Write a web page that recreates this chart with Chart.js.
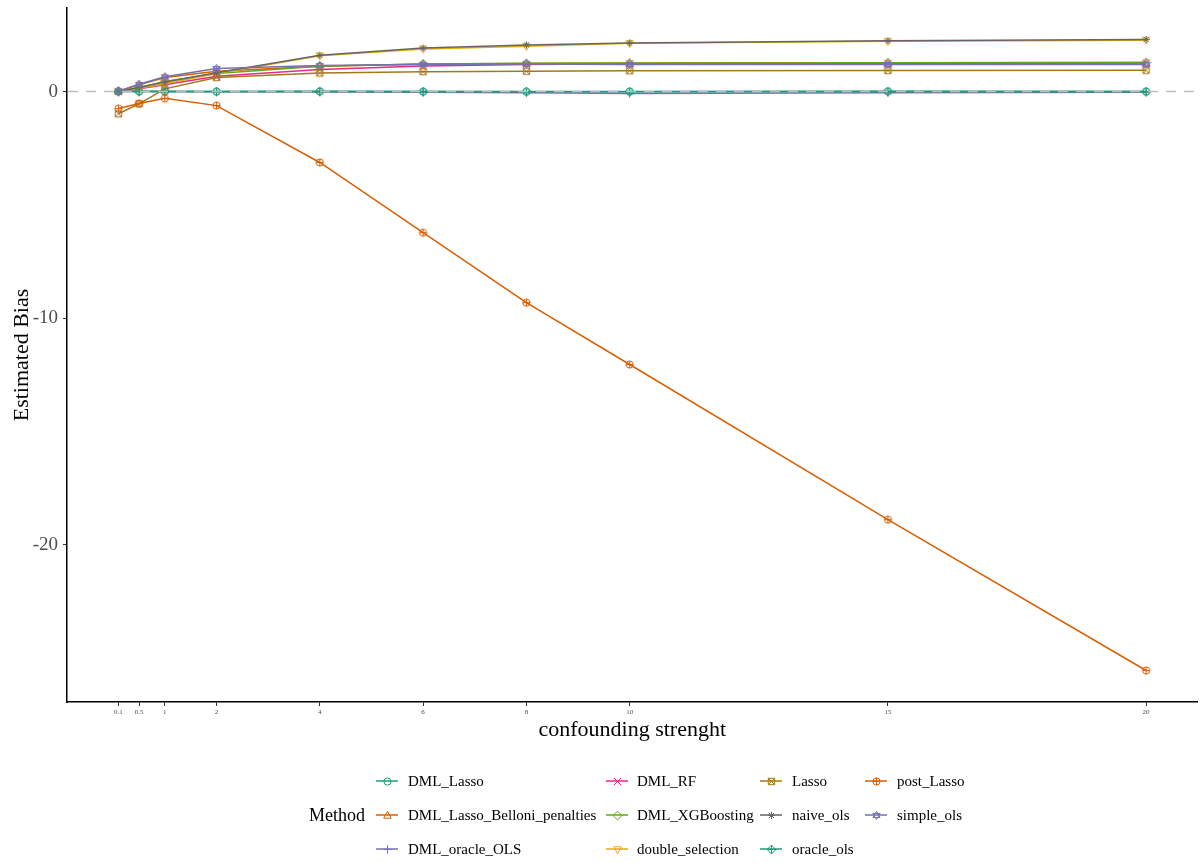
<!DOCTYPE html>
<html>
<head>
<meta charset="utf-8">
<script src="https://cdn.jsdelivr.net/npm/chart.js@4/dist/chart.umd.min.js"></script>
<style>
  html, body { margin: 0; padding: 0; background: #ffffff; }
  #wrap { width: 1203px; height: 864px; position: relative; }
</style>
</head>
<body>
<div id="wrap"><canvas id="c" width="1203" height="864"></canvas></div>
<script>
// ---- data ----
const strengths = [0.1, 0.5, 1, 2, 4, 6, 8, 10, 15, 20];
const xTickValues = [0.1, 0.5, 1, 2, 4, 6, 8, 10, 15, 20];
const yTickValues = [-20, -10, 0];

const methods = ["DML_Lasso", "DML_Lasso_Belloni_penalties", "DML_oracle_OLS", "DML_RF",
  "DML_XGBoosting", "double_selection", "Lasso", "naive_ols", "oracle_ols", "post_Lasso", "simple_ols"];

const DML_Lasso          = [0.02, 0.01, 0.01, 0.00, 0.01, 0.00, -0.01, 0.00, 0.01, 0.00];
const DML_Lasso_Belloni  = [0.02, 0.30, 0.62, 0.90, 1.12, 1.22, 1.24, 1.25, 1.26, 1.27];
const DML_oracle_OLS     = [0.00, 0.00, -0.01, -0.01, -0.02, -0.03, -0.05, -0.08, -0.05, -0.03];
const DML_RF             = [0.00, 0.12, 0.30, 0.68, 0.98, 1.13, 1.20, 1.23, 1.25, 1.26];
const DML_XGBoosting     = [0.00, 0.18, 0.45, 0.80, 1.12, 1.22, 1.25, 1.26, 1.27, 1.29];
const double_selection   = [0.00, 0.15, 0.35, 0.80, 1.58, 1.88, 2.00, 2.13, 2.22, 2.27];
const Lasso              = [-0.98, -0.54, 0.12, 0.62, 0.82, 0.88, 0.90, 0.92, 0.93, 0.94];
const naive_ols          = [0.00, 0.18, 0.42, 0.83, 1.60, 1.92, 2.06, 2.15, 2.24, 2.30];
const oracle_ols         = [0.00, 0.00, 0.00, 0.00, 0.00, 0.00, 0.00, -0.01, 0.00, 0.00];
const post_Lasso         = [-0.75, -0.53, -0.30, -0.62, -3.13, -6.23, -9.32, -12.05, -18.90, -25.56];
const simple_ols         = [0.02, 0.32, 0.65, 1.02, 1.15, 1.20, 1.22, 1.20, 1.20, 1.20];

const seriesValues = [DML_Lasso, DML_Lasso_Belloni, DML_oracle_OLS, DML_RF, DML_XGBoosting,
  double_selection, Lasso, naive_ols, oracle_ols, post_Lasso, simple_ols];

// ---- styles ----
const colors = ["#1B9E77", "#D95F02", "#7570B3", "#E7298A", "#66A61E", "#E6AB02",
  "#A6761D", "#666666", "#1B9E77", "#D95F02", "#7570B3"];
const shapes = ["circle", "triangle", "plus", "x", "diamond", "triangleDown",
  "squareX", "asterisk", "diamondPlus", "circlePlus", "starDavid"];

function makeShape(type, color) {
  const s = 11;
  const cv = document.createElement('canvas');
  cv.width = s; cv.height = s;
  const g = cv.getContext('2d');
  g.strokeStyle = color; g.lineWidth = 1;
  const c = s / 2, r = 3.6;
  g.beginPath();
  if (type === 'circle') { g.arc(c, c, r, 0, Math.PI * 2); }
  else if (type === 'triangle') { g.moveTo(c, c - r - 0.6); g.lineTo(c + r * 1.05, c + r * 0.75); g.lineTo(c - r * 1.05, c + r * 0.75); g.closePath(); }
  else if (type === 'triangleDown') { g.moveTo(c, c + r + 0.6); g.lineTo(c + r * 1.05, c - r * 0.75); g.lineTo(c - r * 1.05, c - r * 0.75); g.closePath(); }
  else if (type === 'plus') { g.moveTo(c - r - 0.5, c); g.lineTo(c + r + 0.5, c); g.moveTo(c, c - r - 0.5); g.lineTo(c, c + r + 0.5); }
  else if (type === 'x') { g.moveTo(c - r, c - r); g.lineTo(c + r, c + r); g.moveTo(c + r, c - r); g.lineTo(c - r, c + r); }
  else if (type === 'diamond') { g.moveTo(c, c - r - 0.8); g.lineTo(c + r + 0.8, c); g.lineTo(c, c + r + 0.8); g.lineTo(c - r - 0.8, c); g.closePath(); }
  else if (type === 'squareX') { g.rect(c - r + 0.4, c - r + 0.4, 2 * r - 0.8, 2 * r - 0.8); g.moveTo(c - r + 0.4, c - r + 0.4); g.lineTo(c + r - 0.4, c + r - 0.4); g.moveTo(c + r - 0.4, c - r + 0.4); g.lineTo(c - r + 0.4, c + r - 0.4); }
  else if (type === 'asterisk') { g.moveTo(c - r, c); g.lineTo(c + r, c); g.moveTo(c, c - r); g.lineTo(c, c + r); g.moveTo(c - r * 0.72, c - r * 0.72); g.lineTo(c + r * 0.72, c + r * 0.72); g.moveTo(c + r * 0.72, c - r * 0.72); g.lineTo(c - r * 0.72, c + r * 0.72); }
  else if (type === 'diamondPlus') { g.moveTo(c, c - r - 0.8); g.lineTo(c + r + 0.8, c); g.lineTo(c, c + r + 0.8); g.lineTo(c - r - 0.8, c); g.closePath(); g.moveTo(c - r - 0.8, c); g.lineTo(c + r + 0.8, c); g.moveTo(c, c - r - 0.8); g.lineTo(c, c + r + 0.8); }
  else if (type === 'circlePlus') { g.arc(c, c, r, 0, Math.PI * 2); g.moveTo(c - r, c); g.lineTo(c + r, c); g.moveTo(c, c - r); g.lineTo(c, c + r); }
  else if (type === 'starDavid') { g.moveTo(c, c - r - 0.6); g.lineTo(c + r, c + r * 0.55); g.lineTo(c - r, c + r * 0.55); g.closePath(); g.moveTo(c, c + r + 0.6); g.lineTo(c + r, c - r * 0.55); g.lineTo(c - r, c - r * 0.55); g.closePath(); }
  g.stroke();
  return cv;
}

const pointImgs = shapes.map((sh, i) => makeShape(sh, colors[i]));

const datasets = methods.map((m, i) => ({
  label: m,
  data: strengths.map((x, j) => ({ x: x, y: seriesValues[i][j] })),
  borderColor: colors[i],
  backgroundColor: colors[i],
  borderWidth: 1.5,
  pointStyle: pointImgs[i],
  pointRadius: 4,
  pointHoverRadius: 4,
  tension: 0,
  order: -i
}));

const serif = "'Liberation Serif', 'DejaVu Serif', serif";

const overlay = {
  id: 'overlay',
  afterDatasetsDraw(chart) {
    const ctx = chart.ctx, ca = chart.chartArea, y = chart.scales.y.getPixelForValue(0);
    ctx.save();
    ctx.strokeStyle = '#BEBEBE';
    ctx.lineWidth = 1.5;
    ctx.setLineDash([10, 8]);
    ctx.beginPath();
    ctx.moveTo(ca.left + 1, y);
    ctx.lineTo(ca.right, y);
    ctx.stroke();
    ctx.restore();
  },
  afterDraw(chart) {
    const ctx = chart.ctx;
    ctx.save();
    ctx.fillStyle = '#000';
    ctx.textBaseline = 'middle';
    ctx.font = "18px " + serif;
    ctx.textAlign = 'left';
    ctx.fillText('Method', 309, 816);
    const rowsY = [781, 815, 849];
    const keyX = [387, 617, 771, 876];
    const textX = [408, 637, 792, 897];
    ctx.font = "15px " + serif;
    methods.forEach((m, i) => {
      const col = Math.floor(i / 3), row = i % 3;
      const kx = keyX[col], ky = rowsY[row];
      ctx.strokeStyle = colors[i];
      ctx.lineWidth = 1.5;
      ctx.setLineDash([]);
      ctx.beginPath();
      ctx.moveTo(kx - 11, ky);
      ctx.lineTo(kx + 11, ky);
      ctx.stroke();
      const img = pointImgs[i];
      ctx.drawImage(img, Math.round(kx - img.width / 2), Math.round(ky - img.height / 2));
      ctx.fillStyle = '#000';
      ctx.fillText(m, textX[col], ky + 1);
    });
    ctx.restore();
  }
};

new Chart(document.getElementById('c'), {
  type: 'line',
  data: { datasets: datasets },
  plugins: [overlay],
  options: {
    responsive: false,
    animation: false,
    devicePixelRatio: 1,
    layout: { padding: { top: 8, right: 0, left: 0, bottom: 0 } },
    plugins: { legend: { display: false }, tooltip: { enabled: false }, title: { display: false } },
    scales: {
      x: {
        type: 'linear',
        min: -0.895,
        max: 20.995,
        afterFit: s => { s.height = 162; s.paddingLeft = 0; s.paddingRight = 0; },
        afterBuildTicks: s => { s.ticks = xTickValues.map(v => ({ value: v })); },
        ticks: {
          autoSkip: false,
          maxRotation: 0,
          font: { family: serif, size: 7 },
          color: '#4D4D4D',
          padding: 2,
          callback: v => String(v)
        },
        grid: { display: true, drawOnChartArea: false, drawTicks: true, tickLength: 4, color: '#333333', lineWidth: 1 },
        border: { display: true, color: '#000000', width: 1.5 },
        title: {
          display: true,
          text: 'confounding strenght',
          font: { family: serif, size: 22 },
          color: '#000000',
          padding: { top: 0, bottom: 121 }
        }
      },
      y: {
        type: 'linear',
        min: -26.95,
        max: 3.69,
        afterFit: s => { s.width = 67; s.paddingTop = 0; s.paddingBottom = 0; },
        afterBuildTicks: s => { s.ticks = yTickValues.map(v => ({ value: v })); },
        ticks: {
          font: { family: serif, size: 19 },
          color: '#4D4D4D',
          padding: 5,
          callback: v => String(v)
        },
        grid: { display: true, drawOnChartArea: false, drawTicks: true, tickLength: 4, color: '#333333', lineWidth: 1 },
        border: { display: true, color: '#000000', width: 1.5 },
        title: {
          display: true,
          text: 'Estimated Bias',
          font: { family: serif, size: 22 },
          color: '#000000',
          padding: { top: 9, bottom: 0 }
        }
      }
    }
  }
});
</script>
</body>
</html>
